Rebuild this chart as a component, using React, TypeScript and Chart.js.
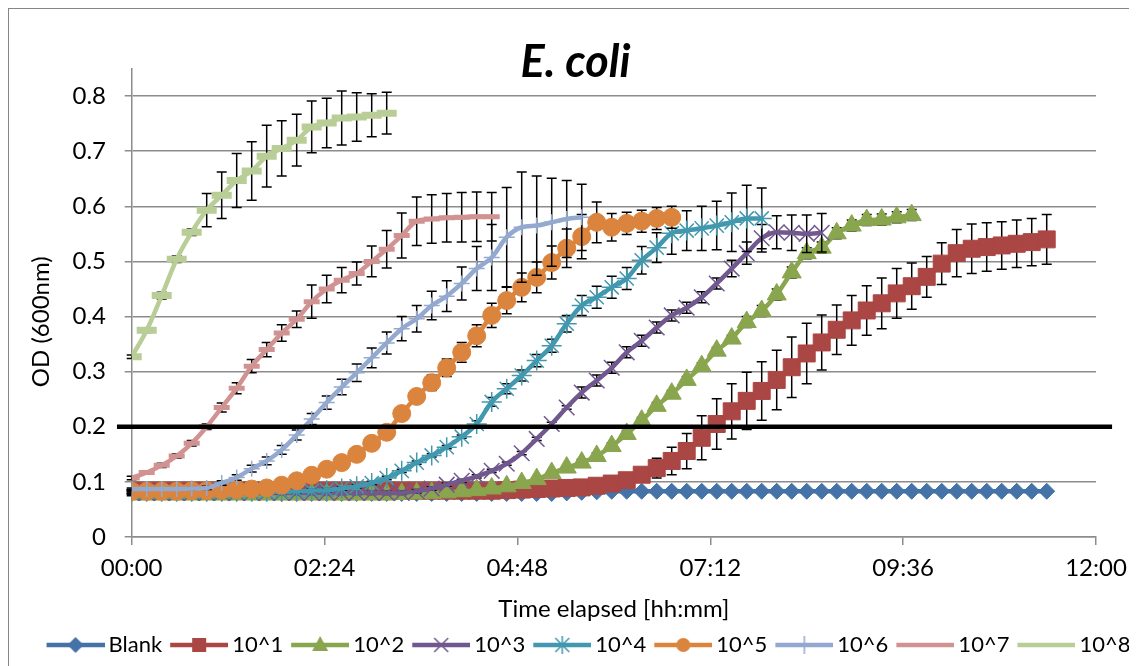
import React, { useEffect, useRef } from 'react';
import { Chart, registerables } from 'chart.js';

Chart.register(...registerables);

// ---------- data ----------
const SERIES_NAMES = ['Blank', '10^1', '10^2', '10^3', '10^4', '10^5', '10^6', '10^7', '10^8'];
const SAMPLE_INTERVAL_MIN = 11.2; // plate-reader sampling interval (minutes)
const X_TICKS_MIN = [0, 144, 288, 432, 576, 720];
const Y_TICKS = [0, 0.1, 0.2, 0.3, 0.4, 0.5, 0.6, 0.7, 0.8];
const THRESHOLD_OD = 0.2;
const THRESHOLD_SPAN_MIN = [-11, 732];

const BLANK = [
  0.080, 0.080, 0.080, 0.080, 0.080, 0.080, 0.080, 0.080, 0.080, 0.080,
  0.079, 0.079, 0.079, 0.079, 0.079, 0.079, 0.079, 0.079, 0.079, 0.079,
  0.079, 0.079, 0.079, 0.079, 0.079, 0.079, 0.079, 0.079, 0.079, 0.080,
  0.081, 0.082, 0.083, 0.083, 0.083, 0.083, 0.083, 0.083, 0.083, 0.083,
  0.083, 0.083, 0.083, 0.083, 0.083, 0.083, 0.083, 0.083, 0.083, 0.083,
  0.083, 0.083, 0.083, 0.083, 0.083, 0.083, 0.083, 0.083, 0.083, 0.083,
  0.083, 0.083,
];

const D1 = [
  0.084, 0.084, 0.084, 0.084, 0.084, 0.084, 0.084, 0.084, 0.084, 0.084,
  0.084, 0.084, 0.084, 0.084, 0.084, 0.084, 0.084, 0.084, 0.084, 0.084,
  0.084, 0.084, 0.084, 0.084, 0.084, 0.085, 0.086, 0.087, 0.088, 0.089,
  0.090, 0.093, 0.097, 0.103, 0.113, 0.125, 0.138, 0.156, 0.180, 0.205,
  0.228, 0.247, 0.265, 0.285, 0.308, 0.333, 0.353, 0.376, 0.393, 0.411,
  0.424, 0.442, 0.455, 0.472, 0.496, 0.515, 0.523, 0.526, 0.529, 0.532,
  0.535, 0.540,
];
const D1_ERR = [
  0.002, 0.002, 0.002, 0.002, 0.002, 0.002, 0.002, 0.002, 0.002, 0.002,
  0.002, 0.002, 0.002, 0.002, 0.002, 0.002, 0.002, 0.002, 0.002, 0.002,
  0.002, 0.002, 0.002, 0.002, 0.002, 0.002, 0.002, 0.002, 0.002, 0.002,
  0.003, 0.004, 0.006, 0.008, 0.012, 0.018, 0.025, 0.032, 0.040, 0.046,
  0.050, 0.052, 0.053, 0.054, 0.055, 0.055, 0.050, 0.045, 0.045, 0.045,
  0.046, 0.045, 0.042, 0.037, 0.038, 0.043, 0.045, 0.044, 0.043, 0.043,
  0.043, 0.045,
];

const D2 = [
  0.077, 0.077, 0.077, 0.077, 0.077, 0.077, 0.077, 0.077, 0.077, 0.077,
  0.077, 0.077, 0.077, 0.077, 0.077, 0.077, 0.077, 0.077, 0.078, 0.079,
  0.080, 0.081, 0.083, 0.085, 0.088, 0.092, 0.098, 0.105, 0.116, 0.126,
  0.135, 0.147, 0.165, 0.187, 0.211, 0.238, 0.260, 0.285, 0.310, 0.338,
  0.360, 0.390, 0.410, 0.440, 0.480, 0.515, 0.525, 0.551, 0.565, 0.575,
  0.576, 0.580, 0.584,
];
const D2_ERR = [
  0.002, 0.002, 0.002, 0.002, 0.002, 0.002, 0.002, 0.002, 0.002, 0.002,
  0.002, 0.002, 0.002, 0.002, 0.002, 0.002, 0.002, 0.002, 0.002, 0.002,
  0.002, 0.002, 0.002, 0.002, 0.002, 0.002, 0.002, 0.002, 0.002, 0.002,
  0.006, 0.006, 0.006, 0.006, 0.006, 0.006, 0.006, 0.006, 0.006, 0.006,
  0.006, 0.010, 0.010, 0.010, 0.010, 0.010, 0.010, 0.010, 0.010, 0.010,
  0.010, 0.010, 0.010,
];

const D3 = [
  0.080, 0.080, 0.080, 0.080, 0.080, 0.080, 0.080, 0.080, 0.080, 0.080,
  0.080, 0.080, 0.080, 0.080, 0.080, 0.080, 0.080, 0.080, 0.080, 0.083,
  0.088, 0.095, 0.102, 0.110, 0.120, 0.133, 0.152, 0.178, 0.205, 0.235,
  0.262, 0.284, 0.307, 0.335, 0.356, 0.380, 0.402, 0.416, 0.435, 0.460,
  0.487, 0.515, 0.542, 0.553, 0.552, 0.550, 0.552,
];
const D3_ERR = [
  0.003, 0.003, 0.003, 0.003, 0.003, 0.003, 0.003, 0.003, 0.003, 0.003,
  0.003, 0.003, 0.003, 0.003, 0.003, 0.003, 0.003, 0.003, 0.003, 0.003,
  0.003, 0.003, 0.003, 0.003, 0.003, 0.003, 0.003, 0.003, 0.003, 0.003,
  0.010, 0.010, 0.010, 0.010, 0.010, 0.010, 0.010, 0.010, 0.010, 0.010,
  0.015, 0.020, 0.025, 0.030, 0.032, 0.034, 0.035,
];

const D4 = [
  0.082, 0.082, 0.082, 0.082, 0.082, 0.082, 0.082, 0.082, 0.082, 0.082,
  0.082, 0.083, 0.084, 0.085, 0.088, 0.092, 0.098, 0.107, 0.120, 0.135,
  0.148, 0.163, 0.182, 0.205, 0.245, 0.269, 0.293, 0.320, 0.347, 0.387,
  0.420, 0.435, 0.453, 0.469, 0.502, 0.525, 0.551, 0.556, 0.560, 0.565,
  0.571, 0.578, 0.578,
];
const D4_ERR = [
  0.003, 0.003, 0.003, 0.003, 0.003, 0.003, 0.003, 0.003, 0.003, 0.003,
  0.003, 0.003, 0.003, 0.003, 0.003, 0.003, 0.003, 0.003, 0.003, 0.003,
  0.003, 0.003, 0.003, 0.006, 0.008, 0.009, 0.010, 0.011, 0.012, 0.015,
  0.018, 0.020, 0.020, 0.020, 0.025, 0.027, 0.038, 0.036, 0.040, 0.044,
  0.053, 0.060, 0.055,
];

const D5 = [
  0.083, 0.083, 0.083, 0.083, 0.084, 0.084, 0.085, 0.086, 0.087, 0.089,
  0.094, 0.102, 0.112, 0.123, 0.135, 0.150, 0.170, 0.190, 0.224, 0.255,
  0.280, 0.307, 0.335, 0.365, 0.402, 0.429, 0.453, 0.471, 0.498, 0.524,
  0.545, 0.571, 0.562, 0.569, 0.573, 0.578, 0.580,
];
const D5_ERR = [
  0.003, 0.003, 0.003, 0.003, 0.003, 0.003, 0.003, 0.003, 0.003, 0.003,
  0.003, 0.003, 0.003, 0.003, 0.003, 0.005, 0.006, 0.008, 0.010, 0.012,
  0.014, 0.016, 0.018, 0.020, 0.022, 0.024, 0.026, 0.028, 0.030, 0.035,
  0.040, 0.037, 0.025, 0.020, 0.020, 0.020, 0.020,
];

const D6 = [
  0.087, 0.087, 0.087, 0.087, 0.088, 0.089, 0.098, 0.108, 0.124, 0.138,
  0.158, 0.185, 0.214, 0.244, 0.272, 0.298, 0.325, 0.352, 0.378, 0.396,
  0.420, 0.437, 0.460, 0.487, 0.507, 0.544, 0.562, 0.565, 0.571, 0.577,
  0.580,
];
const D6_ERR = [
  0.002, 0.002, 0.002, 0.002, 0.002, 0.003, 0.004, 0.005, 0.006, 0.007,
  0.008, 0.009, 0.010, 0.012, 0.014, 0.016, 0.018, 0.020, 0.022, 0.024,
  0.026, 0.028, 0.030, 0.040, 0.060, 0.090, 0.100, 0.090, 0.080, 0.070,
  0.060,
];

const D7 = [
  0.107, 0.117, 0.130, 0.147, 0.170, 0.200, 0.235, 0.270, 0.310, 0.340,
  0.370, 0.395, 0.427, 0.450, 0.466, 0.478, 0.500, 0.522, 0.547, 0.573,
  0.577, 0.579, 0.580, 0.581, 0.581,
];
const D7_ERR = [
  0.003, 0.003, 0.004, 0.004, 0.005, 0.005, 0.008, 0.010, 0.012, 0.013,
  0.015, 0.015, 0.030, 0.025, 0.023, 0.021, 0.028, 0.034, 0.041, 0.044,
  0.044, 0.044, 0.045, 0.045, 0.044,
];

const D8 = [
  0.327, 0.375, 0.438, 0.504, 0.553, 0.593, 0.620, 0.647, 0.664, 0.691,
  0.705, 0.720, 0.744, 0.751, 0.760, 0.762, 0.765, 0.769,
];
const D8_ERR = [
  0.003, 0.004, 0.006, 0.006, 0.006, 0.030, 0.042, 0.049, 0.053, 0.056,
  0.050, 0.047, 0.047, 0.045, 0.049, 0.044, 0.039, 0.038,
];

const SERIES_VALUES = [BLANK, D1, D2, D3, D4, D5, D6, D7, D8];
const SERIES_ERRORS = [null, D1_ERR, D2_ERR, D3_ERR, D4_ERR, D5_ERR, D6_ERR, D7_ERR, D8_ERR];

// ---------- styles ----------
const COLORS = ['#4572A7', '#AA4643', '#89A54E', '#71588F', '#4198AF', '#DB843D', '#93A9CF', '#D19392', '#B9CD96'];
const POINT_STYLES = ['rectRot', 'rect', 'triangle', 'crossRot', 'star', 'circle', 'cross', 'line', 'line'];
const POINT_RADII = [8, 12, 11, 11, 10, 9, 8, 8, 10];
const POINT_BORDER = [1, 1, 1, 1.5, 1.5, 1, 1.5, 5, 7];
const LEGEND_MARKERS = ['diamond', 'square', 'triangle', 'x', 'star', 'circle', 'plus', 'none', 'none'];

const FONT = 'Lato';
const GRID = '#8c8c8c';
const TITLE_SHIFT = 2.5;
const LEGEND_SHIFT = 16;
const Y_TITLE_SHIFT = 19;

const pad2 = (n: number) => (n < 10 ? '0' : '') + n;
const hhmm = (min: number) => pad2(Math.floor(min / 60)) + ':' + pad2(Math.round(min % 60));

function makeIcon(color: string, marker: string): HTMLCanvasElement {
  const c = document.createElement('canvas');
  c.width = 64;
  c.height = 26;
  const g = c.getContext('2d') as CanvasRenderingContext2D;
  const cx = 35;
  const cy = 13;
  g.strokeStyle = color;
  g.fillStyle = color;
  g.lineWidth = 4.5;
  g.beginPath();
  g.moveTo(6, cy);
  g.lineTo(64, cy);
  g.stroke();
  g.lineWidth = 1.5;
  g.beginPath();
  switch (marker) {
    case 'diamond':
      g.moveTo(cx - 8, cy); g.lineTo(cx, cy - 8); g.lineTo(cx + 8, cy); g.lineTo(cx, cy + 8); g.closePath(); g.fill();
      break;
    case 'square':
      g.rect(cx - 7, cy - 7, 14, 14); g.fill();
      break;
    case 'triangle':
      g.moveTo(cx, cy - 9); g.lineTo(cx + 8, cy + 6); g.lineTo(cx - 8, cy + 6); g.closePath(); g.fill();
      break;
    case 'x':
      g.moveTo(cx - 7, cy - 7); g.lineTo(cx + 7, cy + 7); g.moveTo(cx + 7, cy - 7); g.lineTo(cx - 7, cy + 7); g.stroke();
      break;
    case 'star':
      g.moveTo(cx - 7, cy - 7); g.lineTo(cx + 7, cy + 7); g.moveTo(cx + 7, cy - 7); g.lineTo(cx - 7, cy + 7);
      g.moveTo(cx, cy - 9); g.lineTo(cx, cy + 9); g.stroke();
      break;
    case 'circle':
      g.arc(cx, cy, 7, 0, Math.PI * 2); g.fill();
      break;
    case 'plus':
      g.moveTo(cx - 8, cy); g.lineTo(cx + 8, cy); g.moveTo(cx, cy - 9); g.lineTo(cx, cy + 9); g.stroke();
      break;
    default:
      break;
  }
  return c;
}

const errorBarPlugin = {
  id: 'errorBars',
  beforeDatasetDraw(chart: any, args: any) {
    const ds: any = chart.data.datasets[args.index];
    if (!ds.errors) return;
    const ctx = chart.ctx;
    const xs = chart.scales.x;
    const ys = chart.scales.y;
    ctx.save();
    ctx.strokeStyle = '#000';
    ctx.lineWidth = 1.5;
    ds.data.forEach((p: any, i: number) => {
      const e = ds.errors[i];
      if (!e) return;
      const x = xs.getPixelForValue(p.x);
      const y1 = ys.getPixelForValue(p.y + e);
      const y2 = ys.getPixelForValue(p.y - e);
      ctx.beginPath();
      ctx.moveTo(x, y1); ctx.lineTo(x, y2);
      ctx.moveTo(x - 5, y1); ctx.lineTo(x + 5, y1);
      ctx.moveTo(x - 5, y2); ctx.lineTo(x + 5, y2);
      ctx.stroke();
    });
    ctx.restore();
  },
};

const shiftPlugin = {
  id: 'shiftBoxes',
  afterLayout(chart: any) {
    const t = chart.titleBlock;
    if (t) { t.left += TITLE_SHIFT; t.right += TITLE_SHIFT; }
    const l = chart.legend;
    if (l) { l.left += LEGEND_SHIFT; l.right += LEGEND_SHIFT; }
    const y = chart.scales.y;
    if (y && !y.__titleShifted) {
      const orig = y.drawTitle.bind(y);
      y.drawTitle = function () {
        const ctx = chart.ctx;
        ctx.save();
        ctx.translate(0, Y_TITLE_SHIFT);
        orig();
        ctx.restore();
      };
      y.__titleShifted = true;
    }
  },
};

export default function App() {
  const ref = useRef<HTMLCanvasElement | null>(null);

  useEffect(() => {
    const prevOverflow = document.documentElement.style.overflow;
    document.documentElement.style.overflow = 'hidden';
    if (!ref.current) return;
    const icons = SERIES_NAMES.map((_, i) => makeIcon(COLORS[i], LEGEND_MARKERS[i]));

    const seriesDatasets = SERIES_NAMES.map((name, i) => ({
      label: name,
      data: SERIES_VALUES[i].map((y, k) => ({ x: k * SAMPLE_INTERVAL_MIN, y })),
      errors: SERIES_ERRORS[i],
      borderColor: COLORS[i],
      backgroundColor: COLORS[i],
      borderWidth: 4.5,
      pointStyle: POINT_STYLES[i],
      pointRadius: POINT_RADII[i],
      pointBorderWidth: POINT_BORDER[i],
      pointBackgroundColor: COLORS[i],
      pointBorderColor: COLORS[i],
      cubicInterpolationMode: 'monotone',
      order: 10 - i,
    }));

    const thresholdDataset = {
      label: 'threshold',
      data: THRESHOLD_SPAN_MIN.map((x) => ({ x, y: THRESHOLD_OD })),
      borderColor: '#000',
      backgroundColor: '#000',
      borderWidth: 4.5,
      pointRadius: 0,
      clip: false,
      tension: 0,
      order: 0,
    };

    const tickFont = { family: FONT, size: 24 };
    const legendFont = { family: FONT, size: 22 };

    const chart = new Chart(ref.current, {
      type: 'line',
      data: { datasets: [...seriesDatasets, thresholdDataset] as any },
      options: {
        responsive: false,
        maintainAspectRatio: false,
        animation: false,
        devicePixelRatio: 1,
        layout: { padding: 0 },
        scales: {
          x: {
            type: 'linear',
            min: 0,
            max: 720,
            afterBuildTicks: (s: any) => { s.ticks = X_TICKS_MIN.map((v) => ({ value: v })); },
            afterFit: (s: any) => { s.height = 88; },
            ticks: { callback: (v: any) => hhmm(Number(v)), font: tickFont, color: '#000', padding: 8.6, maxRotation: 0, minRotation: 0, autoSkip: false },
            grid: { drawOnChartArea: false, drawTicks: true, tickLength: 8, tickColor: GRID, lineWidth: 1.5 },
            border: { display: true, color: GRID, width: 1.5 },
            title: { display: true, text: 'Time elapsed [hh:mm]', font: tickFont, color: '#000', padding: { top: 0, bottom: 1.6 } },
          },
          y: {
            type: 'linear',
            min: 0,
            max: 0.85,
            afterBuildTicks: (s: any) => { s.ticks = Y_TICKS.map((v) => ({ value: v })); },
            afterFit: (s: any) => { s.width = 122.7; },
            ticks: { callback: (v: any) => String(Math.round(Number(v) * 10) / 10), font: tickFont, color: '#000', padding: 18.7 },
            grid: { color: GRID, lineWidth: 1.5, drawTicks: true, tickLength: 7, tickColor: GRID },
            border: { display: true, color: GRID, width: 1.5 },
            title: { display: true, text: 'OD (600nm)', font: tickFont, color: '#000', padding: { top: 17.6, bottom: 0 } },
          },
          // empty right-hand spacer so the plot ends where the reference plot ends
          rightSpacer: {
            type: 'linear',
            position: 'right',
            display: true,
            afterFit: (s: any) => { s.width = 41; },
            ticks: { display: false },
            grid: { display: false, drawTicks: false },
            border: { display: false },
          },
        },
        plugins: {
          title: {
            display: true,
            text: 'E. coli',
            color: '#000',
            font: { family: FONT, size: 45, weight: 'bold', style: 'italic' },
            padding: { top: 26, bottom: -20.5 },
          },
          legend: {
            position: 'bottom',
            onClick: () => {},
            labels: {
              usePointStyle: true,
              pointStyleWidth: 50,
              boxHeight: 22,
              padding: 9,
              font: legendFont,
              color: '#000',
              generateLabels: () =>
                SERIES_NAMES.map((name, i) => ({
                  text: name,
                  pointStyle: icons[i],
                  fillStyle: COLORS[i],
                  strokeStyle: COLORS[i],
                  lineWidth: 0,
                  hidden: false,
                  datasetIndex: i,
                  fontColor: '#000',
                })) as any,
            },
          },
          tooltip: { enabled: false },
        },
      } as any,
      plugins: [errorBarPlugin, shiftPlugin] as any,
    });

    return () => {
      chart.destroy();
      document.documentElement.style.overflow = prevOverflow;
    };
  }, []);

  return (
    <div
      style={{
        position: 'relative',
        width: 1129,
        height: 658,
        boxSizing: 'border-box',
        borderTop: '1px solid #868686',
        borderLeft: '1px solid #868686',
        marginRight: -8,
        background: '#fff',
      }}
    >
      <canvas ref={ref} width={1128} height={657} style={{ display: 'block', width: 1128, height: 657 }} />
    </div>
  );
}
